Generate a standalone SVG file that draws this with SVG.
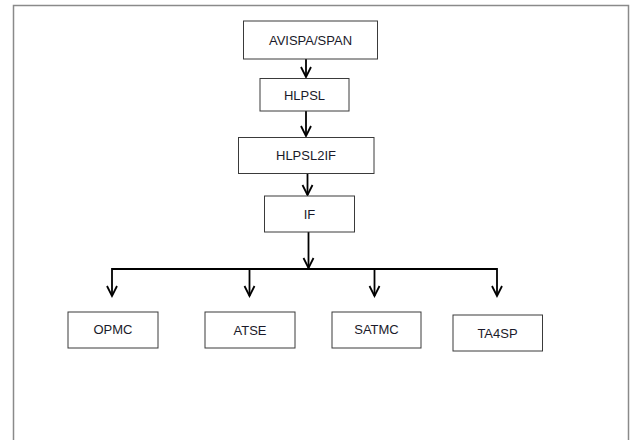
<svg xmlns="http://www.w3.org/2000/svg" width="631" height="440" viewBox="0 0 631 440">
<defs>
<style>
.box{fill:#fff;stroke:#3a3a3a;stroke-width:1}
.lbl{font-family:"Liberation Sans",Arial,sans-serif;font-size:13px;fill:#1a1a2a;text-anchor:middle;dominant-baseline:central}
.ln{fill:none;stroke:#000;stroke-width:1.8}
</style>
<marker id="arr" markerUnits="userSpaceOnUse" markerWidth="14" markerHeight="14" viewBox="-7 -12 14 14" refX="0" refY="0" orient="auto-start-reverse">
<path d="M-5,-10 L0,0 L5,-10" fill="none" stroke="#000" stroke-width="1.8"/>
</marker>
</defs>
<rect x="0" y="0" width="631" height="440" fill="#fff"/>
<path d="M13.5,441 V5.5 H628.5 V441" fill="none" stroke="#8a8a8a" stroke-width="1.5"/>
<g id="connectors">
<line class="ln" x1="306" y1="59" x2="306" y2="77"/>
<path d="M301,67 L306,77 L311,67" class="ln"/>
<line class="ln" x1="306" y1="111" x2="306" y2="136"/>
<path d="M301,126 L306,136 L311,126" class="ln"/>
<line class="ln" x1="307.5" y1="173" x2="307.5" y2="195"/>
<path d="M302.5,185 L307.5,195 L312.5,185" class="ln"/>
<line class="ln" x1="308.5" y1="232" x2="308.5" y2="268"/>
<path d="M303.5,258 L308.5,268 L313.5,258" class="ln"/>
<path d="M112,296 V269 H497 V296" class="ln"/>
<line class="ln" x1="249.5" y1="269" x2="249.5" y2="296"/>
<line class="ln" x1="374.5" y1="269" x2="374.5" y2="296"/>
<path d="M107,286 L112,296 L117,286" class="ln"/>
<path d="M244.5,286 L249.5,296 L254.5,286" class="ln"/>
<path d="M369.5,286 L374.5,296 L379.5,286" class="ln"/>
<path d="M492,286 L497,296 L502,286" class="ln"/>
</g>
<g id="avispa"><rect class="box" x="243.5" y="21" width="134" height="38"/><text class="lbl" x="310.5" y="40">AVISPA/SPAN</text></g>
<g id="hlpsl"><rect class="box" x="260" y="78.5" width="89" height="32.5"/><text class="lbl" x="304.5" y="95">HLPSL</text></g>
<g id="hlpsl2if"><rect class="box" x="238.5" y="137.5" width="135.5" height="36"/><text class="lbl" x="306" y="155.5">HLPSL2IF</text></g>
<g id="if"><rect class="box" x="264.5" y="196" width="90" height="36"/><text class="lbl" x="309.5" y="214">IF</text></g>
<g id="opmc"><rect class="box" x="68" y="312" width="90" height="36"/><text class="lbl" x="113" y="329">OPMC</text></g>
<g id="atse"><rect class="box" x="205" y="312" width="90" height="36"/><text class="lbl" x="250" y="330">ATSE</text></g>
<g id="satmc"><rect class="box" x="332" y="312" width="89" height="36"/><text class="lbl" x="376.5" y="329">SATMC</text></g>
<g id="ta4sp"><rect class="box" x="453" y="315" width="89.5" height="36"/><text class="lbl" x="497.5" y="333">TA4SP</text></g>
</svg>
